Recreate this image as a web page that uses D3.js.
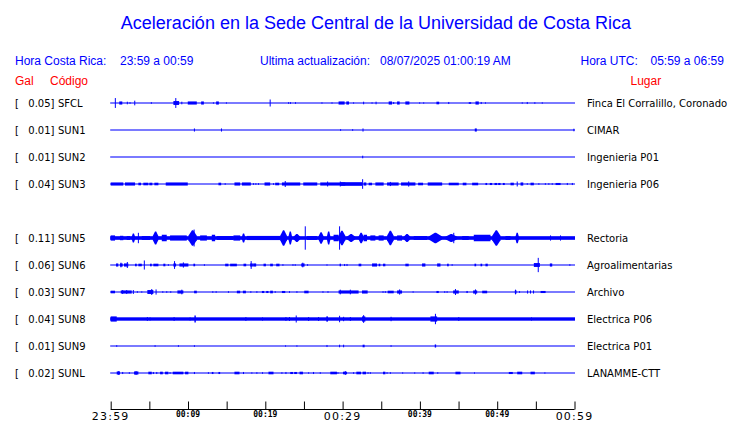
<!DOCTYPE html>
<html><head><meta charset="utf-8">
<script src="https://cdn.jsdelivr.net/npm/d3@7"></script>
<style>body{margin:0;background:#fff}svg{display:block}</style>
</head><body>
<svg id="c" width="740" height="423"></svg>
<script>
// ---- data ----
const title = "Aceleración en la Sede Central de la Universidad de Costa Rica";
const slots = ["SFCL","SUN1","SUN2","SUN3","SUN4","SUN5","SUN6","SUN7","SUN8","SUN9","SUNL"];
const stations = ["SFCL","SUN1","SUN2","SUN3","SUN5","SUN6","SUN7","SUN8","SUN9","SUNL"];
const maxGal = ["0.05","0.01","0.01","0.04","0.11","0.06","0.03","0.04","0.01","0.02"];
const places = ["Finca El Corralillo, Coronado","CIMAR","Ingenieria P01","Ingenieria P06","Rectoria","Agroalimentarias","Archivo","Electrica P06","Electrica P01","LANAMME-CTT"];
const noise = [0.04,0.04,0.04,0.04,0.14,0.04,0.04,0.13,0.04,0.04];
const tickMinutes = [0,5,10,15,20,25,30,35,40,45,50,55,60];
const labelMinutes = [0,10,20,30,40,50,60];
const tickLabels = ["23:59","00:09","00:19","00:29","00:39","00:49","00:59"];
const majorLabels = ["23:59","00:29","00:59"];

// events: [start minute, end minute, normalized amplitude]
const sfclEvents = [[0.60,0.60,0.38],[1.11,1.50,0.12],[2.15,2.15,0.1],[2.50,2.50,0.06],[3.11,3.11,0.18],[5.26,5.26,0.06],[8.11,8.85,0.15],[8.42,8.42,0.38],[9.20,9.20,0.1],[9.97,11.14,0.12],[11.70,12.05,0.12],[13.29,13.29,0.05],[13.64,13.99,0.12],[14.97,14.97,0.05],[20.63,20.63,0.27],[23.01,23.01,0.06],[23.26,23.26,0.06],[23.91,23.91,0.06],[27.33,27.33,0.05],[28.63,28.63,0.05],[29.48,30.26,0.12],[30.48,30.83,0.12],[31.42,31.42,0.05],[32.72,32.72,0.1],[33.81,33.81,0.05],[34.33,34.33,0.1],[35.96,36.40,0.12],[36.61,36.61,0.08],[37.05,37.38,0.12],[38.12,38.64,0.12],[39.97,39.97,0.05],[40.49,40.49,0.05],[42.14,42.49,0.1],[43.73,43.73,0.08],[46.32,46.63,0.06],[47.19,47.62,0.12],[47.93,47.93,0.08],[48.48,48.48,0.05],[53.24,53.24,0.05],[53.89,53.89,0.08],[54.87,54.87,0.06],[55.83,55.83,0.05]];
const sun1Events = [[10.83,10.83,0.12],[14.33,14.33,0.12],[29.74,29.74,0.06],[31.30,31.30,0.06],[32.64,32.64,0.12],[47.10,47.36,0.12],[59.92,59.92,0.1]];
const sun2Events = [[32.60,32.60,0.1]];
const sun3Events = [[0,1.63,0.12],[1.85,3.15,0.12],[3.58,3.92,0.1],[4.22,4.87,0.1],[5.00,5.39,0.1],[5.65,6.17,0.1],[7.12,9.97,0.12],[13.94,14.29,0.1],[14.81,14.81,0.06],[16.01,16.75,0.12],[16.97,18.13,0.12],[18.47,18.47,0.06],[18.78,18.78,0.06],[19.12,19.12,0.06],[19.90,20.63,0.12],[21.06,21.06,0.06],[21.28,21.80,0.1],[22.15,24.52,0.12],[22.58,22.58,0.23],[24.91,26.72,0.12],[27.11,30.35,0.12],[28.06,28.06,0.19],[29.70,32.51,0.14],[29.70,29.70,0.19],[32.59,32.59,0.37],[32.72,33.07,0.12],[33.37,33.81,0.1],[34.24,35.31,0.12],[35.75,37.25,0.12],[36.18,36.18,0.16],[37.56,39.42,0.12],[38.55,38.55,0.2],[39.77,40.41,0.1],[41.01,42.88,0.12],[43.73,45.03,0.1],[45.54,46.02,0.1],[46.76,47.54,0.1],[48.48,48.70,0.08],[49.04,49.35,0.08],[49.65,50.00,0.08],[50.13,50.43,0.08],[50.73,50.98,0.08],[51.72,52.15,0.1],[52.59,52.59,0.19],[53.02,53.37,0.12],[53.89,53.89,0.06],[54.31,54.74,0.1],[55.39,55.39,0.06],[56.23,56.23,0.06],[56.68,56.68,0.06],[57.12,57.12,0.06],[57.55,58.20,0.08],[59.07,59.07,0.08],[59.72,59.72,0.08]];
const sun5Events = [[0,0.56,0.2],[1.20,1.63,0.17],[2.07,2.50,0.15],[2.72,3.15,0.35],[3.58,3.58,0.4],[4.02,5.09,0.15],[5.44,6.17,0.5],[6.61,7.25,0.25],[7.68,9.84,0.2],[10.05,11.14,0.6],[10.79,10.79,0.65],[11.57,12.44,0.2],[13.08,13.51,0.25],[13.73,15.88,0.15],[15.88,16.75,0.2],[16.97,17.40,0.35],[17.62,21.93,0.16],[21.93,22.80,0.6],[23.01,23.45,0.5],[23.65,24.52,0.3],[25.17,25.17,0.9],[25.39,26.68,0.15],[26.89,27.54,0.45],[27.98,28.41,0.5],[28.83,29.48,0.25],[29.48,30.35,0.55],[29.61,29.61,0.9],[30.57,31.64,0.3],[32.07,32.72,0.4],[32.72,33.16,0.25],[33.59,34.24,0.2],[34.66,35.31,0.2],[35.75,36.61,0.55],[37.05,37.69,0.2],[37.90,38.77,0.3],[39.20,40.93,0.15],[41.14,42.88,0.4],[43.30,44.82,0.3],[44.38,44.38,0.4],[45.47,46.32,0.15],[46.97,49.13,0.25],[49.35,50.43,0.6],[51.07,51.72,0.15],[52.37,52.80,0.4],[56.90,56.90,0.2],[58.19,58.19,0.2]];
const sun6Events = [[0.69,0.98,0.12],[1.20,1.55,0.12],[1.33,1.33,0.18],[1.72,2.28,0.12],[2.15,2.15,0.23],[3.15,3.37,0.1],[3.58,4.02,0.1],[4.35,4.35,0.35],[5.09,5.31,0.1],[5.52,6.17,0.1],[6.81,7.07,0.1],[7.46,7.46,0.06],[8.11,8.46,0.12],[8.26,8.26,0.3],[8.89,10.05,0.12],[9.40,9.40,0.2],[10.70,10.92,0.1],[12.12,12.12,0.06],[14.81,15.23,0.1],[15.45,16.32,0.1],[17.18,17.53,0.1],[18.04,18.39,0.12],[18.17,18.17,0.3],[18.43,18.82,0.12],[19.77,20.08,0.1],[20.63,20.98,0.1],[21.41,21.84,0.1],[22.28,22.28,0.06],[23.58,23.58,0.06],[23.87,23.87,0.06],[24.65,25.08,0.12],[24.85,24.85,0.18],[25.47,25.47,0.06],[27.98,27.98,0.05],[29.61,29.79,0.1],[30.26,30.26,0.08],[30.57,30.57,0.08],[32.07,32.42,0.1],[33.81,34.46,0.12],[34.66,34.88,0.1],[35.23,35.53,0.1],[38.12,38.55,0.1],[40.28,40.71,0.12],[42.23,42.66,0.12],[43.52,43.73,0.1],[44.17,44.17,0.06],[47.06,47.28,0.1],[47.84,48.06,0.1],[48.48,48.78,0.1],[54.74,55.52,0.15],[55.31,55.31,0.55],[56.81,57.12,0.12],[59.40,59.40,0.06]];
const sun7Events = [[0,0.56,0.1],[1.30,2.72,0.12],[1.55,1.55,0.15],[2.07,2.07,0.15],[2.93,2.93,0.15],[3.45,3.45,0.06],[4.02,4.02,0.05],[4.74,5.52,0.15],[5.31,5.31,0.23],[5.87,5.87,0.2],[6.74,6.74,0.06],[7.25,7.25,0.06],[7.77,7.77,0.06],[8.63,9.40,0.12],[9.20,9.20,0.18],[10.79,11.14,0.1],[13.21,13.21,0.06],[13.64,13.64,0.06],[15.23,15.23,0.06],[16.32,16.75,0.1],[17.10,17.49,0.1],[18.13,18.13,0.06],[18.91,18.91,0.06],[19.56,19.86,0.08],[20.12,20.41,0.08],[20.63,20.98,0.1],[21.28,21.28,0.06],[22.15,22.58,0.08],[23.13,23.13,0.06],[24.09,24.09,0.06],[25.04,25.60,0.1],[27.46,27.46,0.06],[28.11,28.11,0.06],[29.48,32.07,0.12],[29.70,29.70,0.18],[31.00,31.00,0.18],[32.51,33.24,0.12],[35.23,35.23,0.06],[35.53,35.53,0.06],[35.83,36.61,0.1],[37.05,37.69,0.12],[37.38,37.38,0.2],[39.12,39.12,0.05],[42.14,42.44,0.08],[43.21,43.21,0.06],[43.52,43.52,0.06],[44.30,45.03,0.12],[44.60,44.60,0.23],[46.02,46.19,0.08],[46.89,47.41,0.12],[47.19,47.19,0.2],[48.06,48.70,0.1],[52.28,52.50,0.12],[52.37,52.37,0.18],[52.89,52.89,0.06],[53.93,53.93,0.12],[54.31,54.31,0.12],[54.70,54.70,0.12],[55.61,56.26,0.08]];
const sun8Events = [[0,0.78,0.2],[4.74,4.74,0.15],[5.09,5.09,0.12],[8.20,8.20,0.15],[10.27,10.27,0.12],[10.83,11.01,0.27],[17.49,17.49,0.15],[19.64,19.64,0.12],[22.67,22.67,0.15],[23.13,23.13,0.15],[24.00,24.00,0.27],[25.60,25.60,0.15],[26.89,26.89,0.15],[27.89,28.11,0.2],[29.61,29.61,0.25],[30.13,30.13,0.17],[31.00,31.00,0.15],[32.51,32.94,0.2],[32.72,32.72,0.3],[36.27,36.27,0.17],[41.36,42.23,0.2],[42.01,42.01,0.4],[45.03,45.03,0.15],[54.44,54.44,0.12]];
const sun9Events = [[0.78,0.78,0.06],[5.74,5.74,0.06],[8.76,8.76,0.06],[10.83,10.83,0.06],[22.62,22.62,0.05],[24.09,24.09,0.05],[27.98,27.98,0.08],[29.61,29.61,0.1],[30.13,30.13,0.1],[32.59,32.85,0.1],[36.27,36.27,0.06],[41.92,42.10,0.12]];
const sunlEvents = [[0.78,1.20,0.12],[1.04,1.04,0.15],[1.55,1.55,0.08],[2.41,2.41,0.06],[3.02,3.58,0.12],[3.28,3.28,0.15],[4.87,5.31,0.1],[5.52,5.52,0.08],[5.96,5.96,0.08],[6.39,6.74,0.1],[7.03,7.46,0.1],[7.68,7.68,0.06],[8.03,9.40,0.1],[9.62,10.05,0.1],[10.83,10.83,0.08],[12.64,12.64,0.06],[13.08,13.29,0.08],[13.94,14.16,0.08],[16.01,16.66,0.1],[17.18,17.18,0.08],[18.26,18.26,0.05],[18.91,18.91,0.06],[19.64,19.64,0.06],[20.41,21.06,0.1],[22.15,22.15,0.06],[22.67,22.67,0.08],[23.23,23.58,0.08],[23.74,24.09,0.08],[24.43,24.87,0.1],[25.60,25.60,0.05],[26.24,26.24,0.08],[27.11,27.11,0.06],[28.41,29.27,0.1],[29.40,29.40,0.06],[30.05,30.57,0.1],[30.35,30.35,0.15],[31.42,31.42,0.06],[31.78,32.38,0.1],[32.59,33.03,0.1],[33.29,33.29,0.06],[33.59,33.59,0.06],[35.23,35.53,0.1],[35.75,35.75,0.06],[36.18,36.18,0.06],[37.77,37.77,0.05],[39.33,39.33,0.05],[40.41,40.41,0.06],[41.14,41.79,0.1],[42.31,42.31,0.06],[44.60,45.25,0.1],[47.06,47.06,0.05],[51.50,52.02,0.08],[52.59,53.24,0.1],[54.31,54.87,0.1],[56.17,56.17,0.05]];
const events = [sfclEvents,sun1Events,sun2Events,sun3Events,sun5Events,sun6Events,sun7Events,sun8Events,sun9Events,sunlEvents];

// ---- drawing ----
const svg = d3.select("#c");
const blue = "#0000ff", red = "#ff0000";
const x = d3.scaleLinear().domain([0,60]).range([110.7,574.5]);
const yRow = d3.scalePoint().domain(slots).range([103,373]);
const amp = d3.scaleLinear().domain([0,1]).range([0,13]);

svg.append("text").attr("x",376).attr("y",29).attr("text-anchor","middle")
  .attr("font-family","Liberation Sans, Arial, sans-serif").attr("font-size",18).attr("fill",blue).text(title);

const hdr = [["Hora Costa Rica:",15],["23:59 a 00:59",120],["Ultima actualización:",260],["08/07/2025 01:00:19 AM",380],["Hora UTC:",580.5],["05:59 a 06:59",650.5]];
svg.selectAll("text.hdr").data(hdr).join("text").attr("class","hdr")
  .attr("x",d=>d[1]).attr("y",65).attr("font-family","Liberation Sans, Arial, sans-serif")
  .attr("font-size",12).attr("fill",blue).text(d=>d[0]);
const sub = [["Gal",15],["Código",50],["Lugar",630.5]];
svg.selectAll("text.sub").data(sub).join("text").attr("class","sub")
  .attr("x",d=>d[1]).attr("y",85).attr("font-family","Liberation Sans, Arial, sans-serif")
  .attr("font-size",12).attr("fill",red).text(d=>d[0]);

const rows = svg.selectAll("g.row").data(stations).join("g").attr("class","row")
  .attr("transform",d=>`translate(0,${yRow(d)})`);
const lblFont = "DejaVu Sans, sans-serif";
rows.append("text").attr("x",15).attr("y",4).attr("font-family",lblFont).attr("font-size",10).text("[");
rows.append("text").attr("x",54.5).attr("y",4).attr("text-anchor","end").attr("font-family",lblFont).attr("font-size",10).text((d,i)=>maxGal[i]+"]");
rows.append("text").attr("x",58).attr("y",4).attr("font-family",lblFont).attr("font-size",10).text(d=>d);
rows.append("text").attr("x",587).attr("y",4).attr("font-family",lblFont).attr("font-size",10).text((d,i)=>places[i]);

rows.each(function(d,i){
  const g = d3.select(this);
  const n = Math.max(0.5, amp(noise[i]));
  g.append("rect").attr("x",x(0)-0.5).attr("width",x(60)-x(0)+1)
    .attr("y",-n).attr("height",2*n).attr("fill",blue);
  events[i].forEach(e=>{
    const x0 = x(e[0]), x1 = x(e[1]);
    const h = Math.max(0.5, amp(e[2]));
    const w = Math.max(1, x1-x0);
    if (e[2] >= 0.3 && w > 2) {
      const d0 = x0, d1 = x0 + w, m = x0 + w*0.5;
      const pts = [[d0,-h*0.3],[m-0.6,-h],[m+0.6,-h],[d1,-h*0.3],[d1,h*0.3],[m+0.6,h],[m-0.6,h],[d0,h*0.3]];
      g.append("path").attr("d",d3.line()(pts)+"Z").attr("fill",blue);
    } else {
      g.append("rect").attr("x",x0-(w===1?0.5:0)).attr("width",w).attr("y",-h).attr("height",2*h).attr("fill",blue);
    }
  });
});

// axis
const axis = d3.axisTop(x).tickValues(tickMinutes).tickSize(8).tickFormat("");
const ag = svg.append("g").attr("transform","translate(0,409.5)").call(axis);
ag.select(".domain").attr("stroke","#000").attr("d",`M${x(0)},0H${x(60)}`);
ag.selectAll(".tick line").attr("stroke","#000");
svg.selectAll("text.tl").data(labelMinutes).join("text").attr("class","tl")
  .attr("x",d=>x(d)).attr("text-anchor","middle")
  .attr("y",(d,i)=>majorLabels.includes(tickLabels[i])?420:417)
  .attr("font-family",(d,i)=>majorLabels.includes(tickLabels[i])?"DejaVu Sans, sans-serif":"DejaVu Sans Mono, monospace")
  .attr("font-size",(d,i)=>majorLabels.includes(tickLabels[i])?11:8)
  .attr("font-weight",(d,i)=>majorLabels.includes(tickLabels[i])?"normal":"bold")
  .attr("letter-spacing",(d,i)=>majorLabels.includes(tickLabels[i])?1.2:0)
  .text((d,i)=>tickLabels[i]);
</script>
</body></html>
